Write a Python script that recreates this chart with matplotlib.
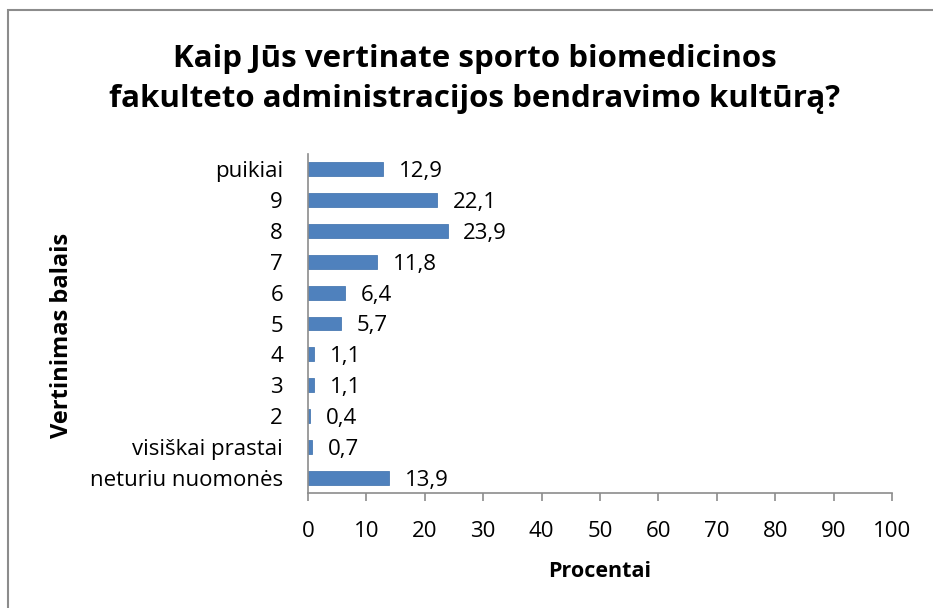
import matplotlib
matplotlib.use("Agg")
import matplotlib.pyplot as plt
from matplotlib.patches import Rectangle

categories = ["neturiu nuomonės", "visiškai prastai", "2", "3", "4", "5", "6", "7", "8", "9", "puikiai"]
values = [13.9, 0.7, 0.4, 1.1, 1.1, 5.7, 6.4, 11.8, 23.9, 22.1, 12.9]
value_labels = ["13,9", "0,7", "0,4", "1,1", "1,1", "5,7", "6,4", "11,8", "23,9", "22,1", "12,9"]
xticks = [0, 10, 20, 30, 40, 50, 60, 70, 80, 90, 100]

title = "Kaip Jūs vertinate sporto biomedicinos\nfakulteto administracijos bendravimo kultūrą?"
xlabel = "Procentai"
ylabel = "Vertinimas balais"

plt.rcParams['font.family'] = ['Open Sans', 'DejaVu Sans']

W, H = 933, 608
fig = plt.figure(figsize=(W / 100, H / 100), dpi=100)
fig.patch.set_facecolor("white")

# outer chart frame
fig.patches.append(Rectangle((8 / W, -0.05), 1.2, 1 - 10 / H + 0.05, transform=fig.transFigure,
                             fill=False, edgecolor="#8c8c8c", linewidth=1.5))

ax = fig.add_axes([308 / W, 1 - 493 / H, (892 - 308) / W, (493 - 154) / H])
ypos = list(range(len(categories)))
ax.barh(ypos, values, height=0.45, color="#4f81bd", edgecolor="#4a7ab3", linewidth=0.6)
for y, v, lab in zip(ypos, values, value_labels):
    ax.text(v + 2.7, y - 0.08, lab, va="center", ha="left", fontsize=16)

ax.set_xlim(0, 100)
ax.set_ylim(-0.5, len(categories) - 0.5)
ax.set_xticks(xticks)
ax.set_xticklabels([str(t) for t in xticks], fontsize=16)
ax.set_yticks(ypos)
ax.set_yticklabels(categories, fontsize=16)
for s in ["top", "right"]:
    ax.spines[s].set_visible(False)
for s in ["left", "bottom"]:
    ax.spines[s].set_color("#8c8c8c")
    ax.spines[s].set_linewidth(1.2)
ax.tick_params(axis="x", direction="out", length=6, color="#8c8c8c", width=1.2, pad=14)
ax.tick_params(axis="y", length=0, pad=18)

ax.set_xlabel(xlabel, fontsize=15.5, fontweight="bold", labelpad=14)
fig.text(62 / W, 1 - 335 / H, ylabel, rotation=90, ha="center", va="center",
         fontsize=17, fontweight="bold")
fig.text(475 / W, 1 - 79 / H, title, ha="center", va="center", fontsize=22.5,
         fontweight="bold", linespacing=1.42)

fig.savefig("out.png", dpi=100)
